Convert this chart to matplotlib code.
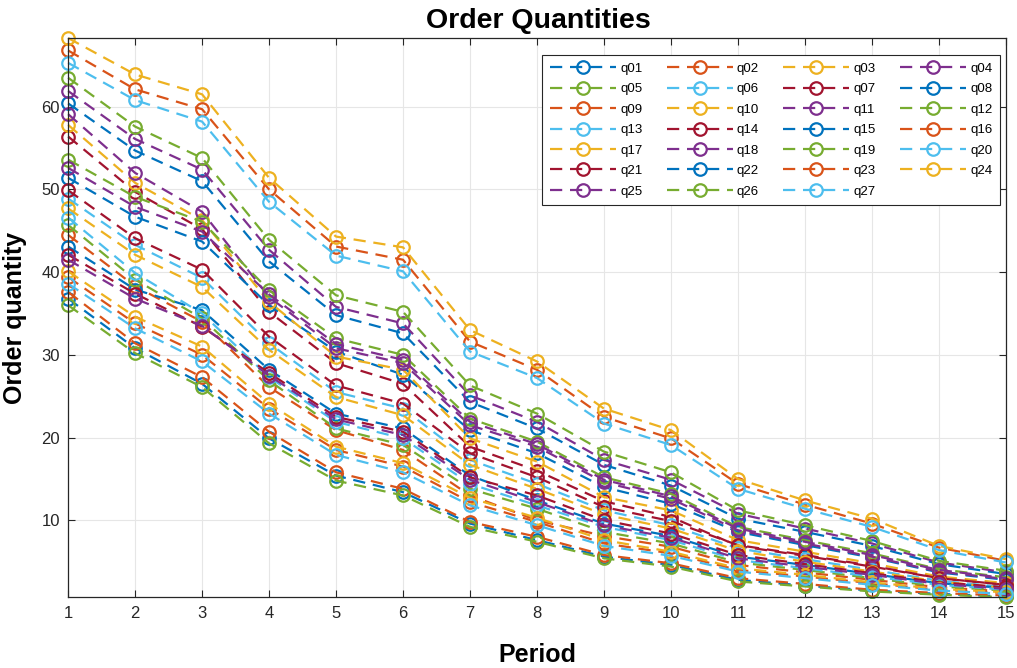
import matplotlib
matplotlib.use("Agg")
import matplotlib.pyplot as plt
import numpy as np

periods = np.arange(1, 16)

# order quantities per series
q01 = [60.4, 54.7, 51.0, 41.3, 34.8, 32.6, 24.3, 21.1, 16.7, 14.2, 10.2, 8.6, 6.9, 4.7, 3.5]
q02 = [66.8, 62.1, 59.7, 50.0, 43.1, 41.5, 31.6, 28.2, 22.5, 19.9, 14.4, 11.9, 9.6, 6.7, 5.1]
q03 = [68.3, 63.9, 61.5, 51.4, 44.3, 43.0, 33.0, 29.2, 23.5, 20.9, 15.0, 12.4, 10.2, 6.9, 5.3]
q04 = [61.9, 56.1, 52.4, 42.7, 35.8, 33.8, 25.1, 21.9, 17.3, 14.9, 10.8, 9.0, 7.2, 4.9, 3.7]
q05 = [63.5, 57.6, 53.8, 43.9, 37.2, 35.2, 26.3, 22.9, 18.3, 15.8, 11.2, 9.4, 7.5, 5.1, 3.9]
q06 = [65.3, 60.8, 58.2, 48.5, 42.0, 40.1, 30.4, 27.2, 21.7, 19.1, 13.8, 11.4, 9.2, 6.4, 4.9]
q07 = [56.4, 49.7, 45.2, 35.2, 29.0, 26.5, 18.9, 16.0, 12.3, 10.4, 6.9, 5.7, 4.4, 3.0, 2.2]
q08 = [51.4, 46.7, 43.7, 36.0, 30.4, 27.6, 20.9, 18.1, 14.0, 12.0, 8.6, 7.0, 5.5, 3.7, 2.8]
q09 = [44.5, 38.3, 34.0, 26.1, 20.9, 18.5, 13.0, 10.0, 8.1, 6.8, 4.6, 3.7, 2.8, 1.9, 1.4]
q10 = [57.8, 50.8, 46.3, 36.4, 29.8, 28.2, 19.9, 17.1, 12.8, 11.2, 7.6, 6.2, 4.8, 3.2, 2.4]
q11 = [59.1, 52.0, 47.3, 37.0, 30.8, 29.0, 21.5, 18.9, 14.6, 12.6, 8.8, 7.2, 5.6, 3.8, 2.9]
q12 = [53.6, 49.1, 46.1, 37.8, 32.0, 30.0, 22.3, 19.5, 15.2, 13.2, 9.2, 7.6, 6.0, 4.1, 3.1]
q13 = [48.9, 43.3, 39.3, 31.4, 25.5, 23.5, 17.3, 14.4, 11.2, 9.4, 6.6, 5.3, 4.0, 2.7, 1.9]
q14 = [49.9, 44.1, 40.3, 32.2, 26.3, 24.1, 18.1, 15.2, 11.6, 9.9, 7.0, 5.8, 4.5, 3.0, 2.2]
q15 = [43.1, 37.9, 35.4, 28.2, 22.9, 21.1, 15.4, 12.4, 9.6, 8.1, 5.6, 4.6, 3.5, 2.4, 1.8]
q16 = [39.4, 33.8, 30.0, 23.5, 18.5, 16.5, 12.2, 9.8, 7.2, 6.0, 4.0, 3.2, 2.4, 1.6, 1.2]
q17 = [47.7, 42.1, 38.2, 30.6, 24.9, 22.7, 16.7, 13.8, 10.7, 9.0, 6.3, 5.0, 3.8, 2.6, 1.8]
q18 = [52.6, 47.9, 44.9, 37.3, 31.3, 29.4, 21.9, 19.2, 14.9, 12.9, 9.0, 7.4, 5.8, 4.0, 3.0]
q19 = [45.7, 39.1, 34.4, 26.9, 21.1, 19.1, 13.8, 11.4, 8.6, 7.2, 4.9, 4.0, 3.0, 2.0, 1.5]
q20 = [46.6, 39.9, 35.0, 27.3, 21.9, 19.9, 14.4, 11.8, 9.2, 7.6, 5.2, 4.2, 3.2, 2.2, 1.6]
q21 = [42.1, 37.4, 33.4, 27.8, 22.5, 20.7, 15.2, 13.0, 10.0, 8.4, 5.8, 4.7, 3.6, 2.5, 1.9]
q22 = [36.8, 30.8, 26.5, 19.9, 15.4, 13.4, 9.6, 7.6, 5.6, 4.6, 2.8, 2.1, 1.5, 1.1, 0.8]
q23 = [37.6, 31.4, 27.3, 20.7, 15.8, 13.8, 9.8, 8.0, 5.8, 4.8, 3.0, 2.3, 1.6, 1.2, 0.9]
q24 = [40.1, 34.6, 31.0, 24.1, 18.9, 16.9, 12.7, 10.3, 7.6, 6.2, 4.2, 3.4, 2.5, 1.7, 1.3]
q25 = [41.5, 36.8, 33.5, 27.5, 22.2, 20.3, 14.9, 12.2, 9.4, 7.9, 5.4, 4.4, 3.4, 2.3, 1.7]
q26 = [36.0, 30.2, 26.1, 19.3, 14.8, 13.0, 9.2, 7.4, 5.4, 4.4, 2.6, 2.0, 1.4, 1.0, 0.7]
q27 = [38.6, 33.2, 29.2, 22.9, 17.9, 15.8, 11.8, 9.4, 6.9, 5.7, 3.8, 3.0, 2.2, 1.5, 1.1]

series = [q01, q02, q03, q04, q05, q06, q07, q08, q09, q10, q11, q12, q13, q14,
          q15, q16, q17, q18, q19, q20, q21, q22, q23, q24, q25, q26, q27]
labels = ["q%02d" % (i + 1) for i in range(len(series))]

# MATLAB default line colour order
colors = ["#0072BD", "#D95319", "#EDB120", "#7E2F8E", "#77AC30", "#4DBEEE", "#A2142F"]

plt.rcParams["font.family"] = ["Liberation Sans", "DejaVu Sans"]

fig = plt.figure(figsize=(10.17, 6.68), dpi=100)
ax = fig.add_axes([0.067, 0.106, 0.922, 0.837])

handles = []
for i, vals in enumerate(series):
    h, = ax.plot(periods, vals, linestyle=(0, (5.5, 3.5)), linewidth=1.6,
                 marker="o", markersize=9, markerfacecolor="none",
                 markeredgewidth=1.6, color=colors[i % 7], label=labels[i],
                 clip_on=False)
    handles.append(h)

allv = np.concatenate([np.array(s) for s in series])
ax.set_xlim(1, 15)
ax.set_ylim(allv.min(), allv.max())
ax.set_xticks(periods)
ax.set_yticks([10, 20, 30, 40, 50, 60])
ax.grid(True, color="#e6e6e6", linewidth=0.8)
ax.set_axisbelow(True)
ax.tick_params(direction="in", labelsize=12, colors="#262626", length=5,
               top=True, right=True, pad=6)
for s in ax.spines.values():
    s.set_color("#262626")
    s.set_linewidth(0.9)

fig.text(0.529, 0.968, "Order Quantities", fontsize=20.5, fontweight="bold",
         ha="center", va="center")
ax.set_xlabel("Period", fontsize=18, fontweight="bold", labelpad=16)
ax.set_ylabel("Order quantity", fontsize=18, fontweight="bold", labelpad=10)

# legend filled row by row like MATLAB
order = [j for c in range(4) for j in range(c, len(series), 4)]
leg = ax.legend([handles[j] for j in order], [labels[j] for j in order],
                ncol=4, loc="upper right", bbox_to_anchor=(0.994, 0.970),
                borderaxespad=0, fontsize=9.5, handlelength=5.0,
                columnspacing=1.85, handletextpad=0.3, labelspacing=0.62,
                borderpad=0.6, fancybox=False, edgecolor="#262626",
                framealpha=1)
leg.get_frame().set_linewidth(0.8)

fig.savefig("out.png", dpi=100)
